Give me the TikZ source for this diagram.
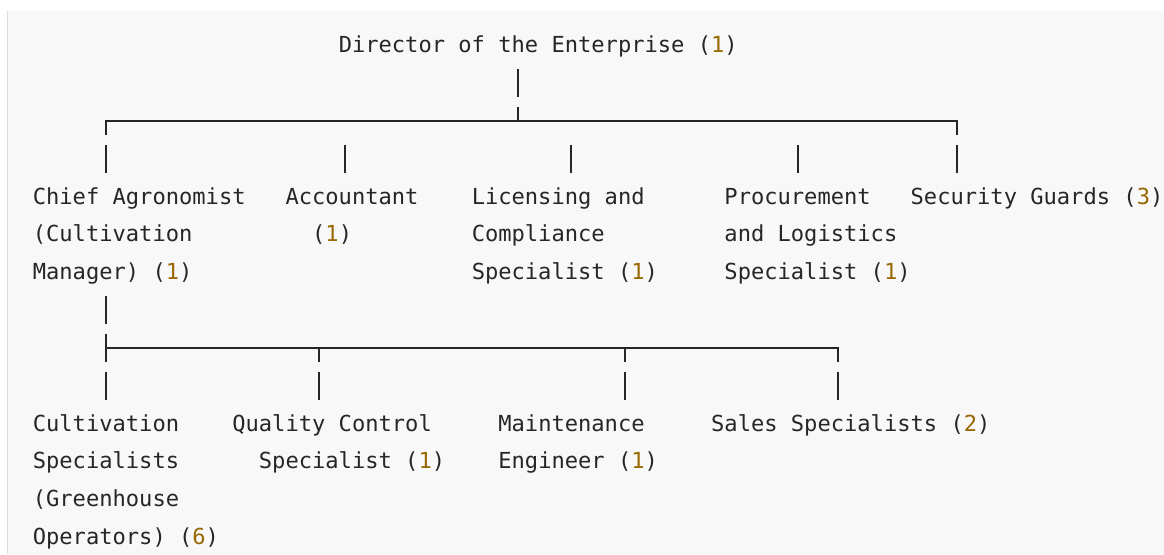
\documentclass[tikz,border=0pt]{standalone}
\usepackage{fontspec}
\setmonofont{DejaVu Sans Mono}
\definecolor{numc}{HTML}{986801}
\definecolor{txtc}{HTML}{262626}
\definecolor{bgc}{HTML}{F8F8F8}
\definecolor{bdc}{HTML}{DDDDDD}
\newcommand\nm[1]{\textcolor{numc}{#1}}
\newcommand\fst{\rule{0pt}{20pt}}
\begin{document}
\begin{tikzpicture}[x=1pt,y=-1pt,
  lbl/.style={anchor=north west,inner sep=0pt,outer sep=0pt,align=left,text=txtc,
    font=\ttfamily\fontsize{22.09pt}{37.83pt}\selectfont},
  busline/.style={draw=txtc,line width=1.5pt},
  vup/.style={draw=txtc,line width=2pt,dash pattern=on 28pt off 9.83pt},
  vdown/.style={vup,dash phase=14pt},
  vloose/.style={draw=txtc,line width=2pt,dash pattern=on 0pt off 23.8pt on 28pt off 100pt}]
\useasboundingbox (0,0) rectangle (1164,554);
\fill[white] (0,0) rectangle (1164,554);
\fill[bgc] (7,11) rectangle (1164,554);
\draw[bdc,line width=1.2pt] (7.6,11) -- (7.6,554);

% nodes
\node[lbl] (dir)   at (338.75,32.7)  {\fst Director of the Enterprise (\nm{1})};
\node[lbl] (chief) at (32.85,184.02) {\fst Chief Agronomist\\(Cultivation\\Manager) (\nm{1})};
\node[lbl] (acct)  at (285.55,184.02) {\fst Accountant\\\phantom{xx}(\nm{1})};
\node[lbl] (lic)   at (471.75,184.02) {\fst Licensing and\\Compliance\\Specialist (\nm{1})};
\node[lbl] (proc)  at (724.45,184.02) {\fst Procurement\\and Logistics\\Specialist (\nm{1})};
\node[lbl] (sec)   at (910.65,184.02) {\fst Security Guards (\nm{3})};
\node[lbl] (cult)  at (32.85,411.0)  {\fst Cultivation\\Specialists\\(Greenhouse\\Operators) (\nm{6})};
\node[lbl] (qc)    at (232.35,411.0) {\fst Quality Control\\\phantom{xx}Specialist (\nm{1})};
\node[lbl] (maint) at (498.35,411.0) {\fst Maintenance\\Engineer (\nm{1})};
\node[lbl] (sales) at (711.15,411.0) {\fst Sales Specialists (\nm{2})};

% connector coordinates
\coordinate (dir-b)   at (518,69.1);
\coordinate (j1)      at (518,121);
\coordinate (k-chief) at (106,121); \coordinate (t-chief) at (106,172.8);
\coordinate (k-acct)  at (345,121); \coordinate (t-acct)  at (345,172.8);
\coordinate (k-lic)   at (571,121); \coordinate (t-lic)   at (571,172.8);
\coordinate (k-proc)  at (798,121); \coordinate (t-proc)  at (798,172.8);
\coordinate (k-sec)   at (957,121); \coordinate (t-sec)   at (957,172.8);
\coordinate (chief-b) at (106,296.1);
\coordinate (j2)      at (106,348);
\coordinate (t-cult)  at (106,399.8);
\coordinate (k-qc)    at (319,348); \coordinate (t-qc)    at (319,399.8);
\coordinate (k-maint) at (625,348); \coordinate (t-maint) at (625,399.8);
\coordinate (k-sales) at (838,348); \coordinate (t-sales) at (838,399.8);

% top level
\draw[vup] (dir-b) -- (j1);
\draw[busline] ([xshift=-1pt]k-chief) -- ([xshift=1pt]k-sec);
\foreach \n in {chief,sec}
  \draw[vdown] (k-\n) -- (t-\n);
\foreach \n in {acct,lic,proc}
  \draw[vloose] (k-\n) -- (t-\n);

% second level
\draw[vup] (chief-b) -- (j2);
\draw[busline] (j2) -- ([xshift=1pt]k-sales);
\draw[vdown] (j2) -- (t-cult);
\foreach \n in {qc,maint,sales}
  \draw[vdown] (k-\n) -- (t-\n);
\end{tikzpicture}
\end{document}
